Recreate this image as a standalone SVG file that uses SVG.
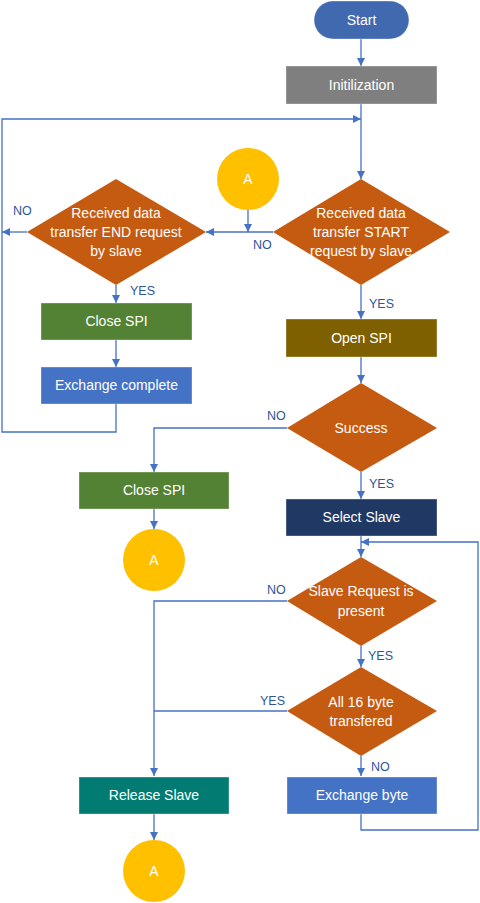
<svg xmlns="http://www.w3.org/2000/svg" width="480" height="903" viewBox="0 0 480 903">
<style>
.t{font-family:"Liberation Sans",Arial,sans-serif;font-size:14px;fill:#ffffff;text-anchor:middle}
.l{font-family:"Liberation Sans",Arial,sans-serif;font-size:12.5px;fill:#2f5597}
.c{fill:none;stroke:#4472c4;stroke-width:1.3}
.b{stroke:#ffffff;stroke-opacity:0.35;stroke-width:1}
.d{fill:#c55a11}
.a{fill:#ffc000}
</style>
<defs>
<marker id="ar" viewBox="0 0 8 8" refX="8" refY="4" markerWidth="8" markerHeight="8" markerUnits="userSpaceOnUse" orient="auto">
<path d="M0,0 L8,4 L0,8 z" fill="#4472c4"/>
</marker>
</defs>
<rect width="480" height="903" fill="#ffffff"/>
<g id="connectors">
<line class="c" x1="361" y1="39" x2="361" y2="66" marker-end="url(#ar)"/>
<line class="c" x1="361" y1="104" x2="361" y2="179" marker-end="url(#ar)"/>
<polyline class="c" points="116,404 116,432 2,432 2,119 361,119" marker-end="url(#ar)"/>
<line class="c" x1="273" y1="232" x2="206" y2="232" marker-end="url(#ar)"/>
<line class="c" x1="248" y1="210" x2="248" y2="232" marker-end="url(#ar)"/>
<line class="c" x1="27" y1="232" x2="2" y2="232" marker-end="url(#ar)"/>
<line class="c" x1="116" y1="285" x2="116" y2="303" marker-end="url(#ar)"/>
<line class="c" x1="116" y1="340" x2="116" y2="367" marker-end="url(#ar)"/>
<line class="c" x1="361" y1="285" x2="361" y2="319" marker-end="url(#ar)"/>
<line class="c" x1="361" y1="357" x2="361" y2="383" marker-end="url(#ar)"/>
<polyline class="c" points="287,428 154,428 154,472" marker-end="url(#ar)"/>
<line class="c" x1="154" y1="509" x2="154" y2="529" marker-end="url(#ar)"/>
<line class="c" x1="361" y1="472" x2="361" y2="499" marker-end="url(#ar)"/>
<line class="c" x1="361" y1="536" x2="361" y2="557" marker-end="url(#ar)"/>
<polyline class="c" points="361,814 361,830 478,830 478,542 361,542" marker-end="url(#ar)"/>
<polyline class="c" points="287,601 154,601 154,776" marker-end="url(#ar)"/>
<line class="c" x1="361" y1="646" x2="361" y2="667" marker-end="url(#ar)"/>
<line class="c" x1="287" y1="711" x2="154" y2="711"/>
<line class="c" x1="361" y1="756" x2="361" y2="776" marker-end="url(#ar)"/>
<line class="c" x1="154" y1="814" x2="154" y2="840" marker-end="url(#ar)"/>
<text class="l" x="253" y="249">NO</text>
<text class="l" x="13" y="215">NO</text>
<text class="l" x="130" y="295">YES</text>
<text class="l" x="369" y="308">YES</text>
<text class="l" x="267" y="420">NO</text>
<text class="l" x="369" y="488">YES</text>
<text class="l" x="267" y="594">NO</text>
<text class="l" x="368" y="660">YES</text>
<text class="l" x="260" y="705">YES</text>
<text class="l" x="371" y="771">NO</text>
</g>
<g id="start">
<rect x="314" y="1" width="95" height="38" rx="19" fill="#4169b0" class="b"/>
<text class="t" x="361.5" y="25">Start</text>
</g>
<g id="init">
<rect x="286" y="66" width="151" height="38" fill="#7f7f7f" class="b"/>
<text class="t" x="361.5" y="90">Initilization</text>
</g>
<g id="startReq">
<polygon class="d" points="361,179 450,232 361,285 273,232"/>
<text class="t" x="361" y="218">Received data</text>
<text class="t" x="361" y="237">transfer START</text>
<text class="t" x="361" y="256">request by slave</text>
</g>
<g id="connA1">
<circle class="a" cx="248" cy="179" r="31"/>
<text class="t" x="248" y="184">A</text>
</g>
<g id="endReq">
<polygon class="d" points="116,179 206,232 116,285 27,232"/>
<text class="t" x="116" y="218">Received data</text>
<text class="t" x="116" y="237">transfer END request</text>
<text class="t" x="116" y="256">by slave</text>
</g>
<g id="closeSpi1">
<rect x="41" y="303" width="151" height="37" fill="#548235" class="b"/>
<text class="t" x="116.5" y="326">Close SPI</text>
</g>
<g id="exchComplete">
<rect x="41" y="367" width="151" height="37" fill="#4472c4" class="b"/>
<text class="t" x="116.5" y="390">Exchange complete</text>
</g>
<g id="openSpi">
<rect x="286" y="319" width="151" height="38" fill="#7f6000" class="b"/>
<text class="t" x="361.5" y="343">Open SPI</text>
</g>
<g id="success">
<polygon class="d" points="361,383 437,428 361,472 287,428"/>
<text class="t" x="361" y="433">Success</text>
</g>
<g id="closeSpi2">
<rect x="79" y="472" width="150" height="37" fill="#548235" class="b"/>
<text class="t" x="154" y="495">Close SPI</text>
</g>
<g id="connA2">
<circle class="a" cx="154" cy="560" r="31"/>
<text class="t" x="154" y="565">A</text>
</g>
<g id="selectSlave">
<rect x="286" y="499" width="151" height="37" fill="#1f3864" class="b"/>
<text class="t" x="361.5" y="522">Select Slave</text>
</g>
<g id="slaveReq">
<polygon class="d" points="361,557 437,601 361,646 287,601"/>
<text class="t" x="361" y="596">Slave Request is</text>
<text class="t" x="361" y="616">present</text>
</g>
<g id="all16">
<polygon class="d" points="361,667 437,711 361,756 287,711"/>
<text class="t" x="361" y="707">All 16 byte</text>
<text class="t" x="361" y="726">transfered</text>
</g>
<g id="releaseSlave">
<rect x="79" y="777" width="150" height="37" fill="#027b72" class="b"/>
<text class="t" x="154" y="800">Release Slave</text>
</g>
<g id="exchByte">
<rect x="287" y="777" width="150" height="37" fill="#4472c4" class="b"/>
<text class="t" x="362" y="800">Exchange byte</text>
</g>
<g id="connA3">
<circle class="a" cx="154" cy="871" r="31"/>
<text class="t" x="154" y="876">A</text>
</g>
</svg>
